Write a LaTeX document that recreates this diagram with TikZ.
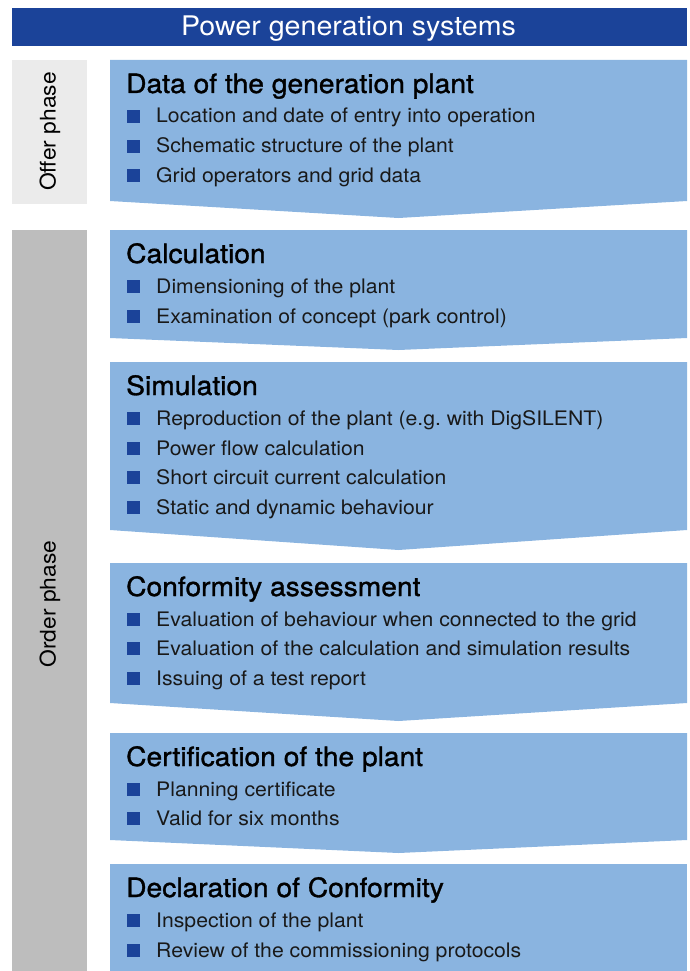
\documentclass[tikz,border=0pt]{standalone}
\usepackage{fontspec}
\setmainfont{TeX Gyre Heros}[FakeStretch=1.06]
\newfontfamily\headfont{TeX Gyre Heros}[FakeStretch=1.06,FakeBold=1.2]
\usetikzlibrary{calc}
\frenchspacing
\definecolor{headblue}{HTML}{1B4399}
\definecolor{boxblue}{HTML}{8AB4E0}
\definecolor{offergray}{HTML}{EBEBEB}
\definecolor{ordergray}{HTML}{BDBDBD}
\tikzset{
	steptitle/.style={anchor=base west, inner sep=0pt, font=\headfont\fontsize{26.6}{30}\selectfont, text=black},
	item/.style={anchor=base west, inner sep=0pt, font=\fontsize{20}{24}\selectfont, text=black!90},
	phase/.style={rotate=90, inner sep=0pt, font=\fontsize{21.5}{24}\selectfont, text=black},
}
\def\chevron(#1:#2:#3){\fill[boxblue] (110,#1) -- (687,#1) -- (687,#2) -- (398.5,#3) -- (110,#2) -- cycle;}
\def\bul(#1:#2)#3{\fill[headblue] (127,{#2-13}) rectangle (140,#2); \node[item] (#1) at (156,#2) {#3};}

\begin{document}
\begin{tikzpicture}[x=1pt,y=-1pt]
		%%%%% START %%%%%
		\useasboundingbox (0,0) rectangle (689,971);
		
		\fill[headblue] (12,8) rectangle (687,46);
		\node[anchor=base, inner sep=0pt, text=white, font=\fontsize{27}{30}\selectfont] (head) at (348.5,36) {Power generation systems};
		
		\fill[offergray] (12,60) rectangle (87,204);
		\node[phase] (offer) at (50,131.5) {Offer phase};
		\fill[ordergray] (12,230) rectangle (87,971);
		\node[phase] (order) at (50,604) {Order phase};
		
		\chevron(60:201:218)
		\node[steptitle] (t1) at (126,93) {Data of the generation plant};
		\bul(b11:123){Location and date of entry into operation}
		\bul(b12:153){Schematic structure of the plant}
		\bul(b13:182){Grid operators and grid data}
		
		\chevron(230:338:350)
		\node[steptitle] (t2) at (126,263) {Calculation};
		\bul(b21:293){Dimensioning of the plant}
		\bul(b22:323){Examination of concept (park control)}
		
		\chevron(362:530:550)
		\node[steptitle] (t3) at (126,395) {Simulation};
		\bul(b31:425){Reproduction of the plant (e.g. with DigSILENT)}
		\bul(b32:455){Power flow calculation}
		\bul(b33:484){Short circuit current calculation}
		\bul(b34:514){Static and dynamic behaviour}
		
		\chevron(563:703:721)
		\node[steptitle] (t4) at (126,596) {Conformity assessment};
		\bul(b41:626){Evaluation of behaviour when connected to the grid}
		\bul(b42:655){Evaluation of the calculation and simulation results}
		\bul(b43:685){Issuing of a test report}
		
		\chevron(733:840:853)
		\node[steptitle] (t5) at (126,766) {Certification of the plant};
		\bul(b51:796){Planning certificate}
		\bul(b52:825){Valid for six months}
		
		\fill[boxblue] (110,864) rectangle (687,971);
		\node[steptitle] (t6) at (126,897) {Declaration of Conformity};
		\bul(b61:927){Inspection of the plant}
		\bul(b62:957){Review of the commissioning protocols}
		%%%%% END %%%%%
\end{tikzpicture}
\end{document}
